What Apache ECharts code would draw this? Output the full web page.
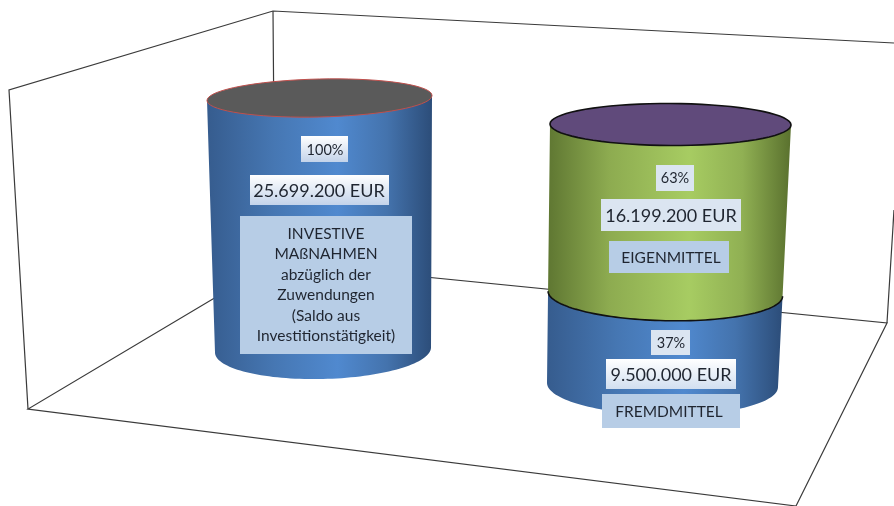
<!DOCTYPE html>
<html>
<head>
<meta charset="utf-8">
<style>html,body{margin:0;padding:0;background:#fff}#chart{width:894px;height:506px}</style>
<script src="https://cdn.jsdelivr.net/npm/echarts@6/dist/echarts.min.js"></script>
</head>
<body>
<div id="chart"></div>
<script>
// Werte in EUR
var leftCategories = ['Investive Maßnahmen'];
var rightCategories = ['Finanzierung'];
var investiv = [25699200];
var fremdmittel = [9500000];
var eigenmittel = [16199200];
var axisMax = 25699200;

var percentTexts = ['100%', '63%', '37%'];
var amountTexts = ['25.699.200 EUR', '16.199.200 EUR', '9.500.000 EUR'];
var nameTexts = [
  'INVESTIVE\nMAßNAHMEN\nabzüglich der\nZuwendungen\n(Saldo aus\nInvestitionstätigkeit)',
  'EIGENMITTEL',
  'FREMDMITTEL'
];

var BLUE = [[0, '#365c8e'], [0.3, '#4677b3'], [0.58, '#5089cf'], [0.8, '#4473ad'], [1, '#2c4d79']];
var GREEN = [[0, '#5f7732'], [0.25, '#8dab50'], [0.58, '#a7cc62'], [0.8, '#90b053'], [1, '#5a712e']];

function gradient(stops) {
  return {
    type: 'linear', x: 0, y: 0, x2: 1, y2: 0,
    colorStops: stops.map(function (s) { return { offset: s[0], color: s[1] }; })
  };
}

// ein Zylinderabschnitt; insets = Verjuengung durch die Perspektive
function cylinderRender(o) {
  return function (params, api) {
    var sys = params.coordSys;
    var yBot = api.coord([api.value(0), api.value(1)])[1] + (o.shiftBottom || 0);
    var yTop = api.coord([api.value(0), api.value(2)])[1] + (o.shiftTop || 0);
    var h = sys.height;

    function edges(y) {
      var f = (sys.y + h - y) / h; // 0 unten, 1 oben
      var l = sys.x + o.insetLT * f + o.insetLB * (1 - f);
      var r = sys.x + sys.width - o.insetRT * f - o.insetRB * (1 - f);
      return [l, r];
    }
    function arc(y, ry, tilt, from, to) {
      var e = edges(y), cx = (e[0] + e[1]) / 2, rx = (e[1] - e[0]) / 2, pts = [];
      for (var i = 0; i <= 72; i++) {
        var t = from + (to - from) * i / 72;
        pts.push([cx + rx * Math.cos(t), y + ry * Math.sin(t) + tilt / 2 * Math.cos(t)]);
      }
      return pts;
    }

    var children = [];
    var topSide = arc(yTop, 0, o.tiltTop, Math.PI, 0);
    var botArc = arc(yBot, o.ryBottom, o.tiltBottom, 0, Math.PI);
    children.push({
      type: 'polygon',
      shape: { points: topSide.concat(botArc) },
      style: { fill: gradient(o.colors) }
    });
    if (o.bottomLine) {
      children.push({
        type: 'polyline',
        shape: { points: arc(yBot, o.ryBottom, o.tiltBottom, 0, Math.PI) },
        style: { fill: 'none', stroke: o.bottomLine, lineWidth: 1.6 }
      });
    }
    if (o.capFill) {
      children.push({
        type: 'polygon',
        shape: { points: arc(yTop, o.ryTop, o.tiltTop, 0, Math.PI * 2) },
        style: { fill: o.capFill, stroke: o.capStroke, lineWidth: o.capWidth }
      });
    }
    return { type: 'group', children: children };
  };
}

function box(x0, y0, x1, y1, fill) {
  return { type: 'rect', silent: true, z: 50, shape: { x: x0, y: y0, width: x1 - x0, height: y1 - y0 }, style: { fill: fill } };
}
function label(cx, cy, text, size, lh) {
  return {
    type: 'text', silent: true, z: 51, x: cx, y: cy,
    style: { text: text, fill: '#1f2530', font: size + 'px Lato, "Open Sans", sans-serif', align: 'center', verticalAlign: 'middle', lineHeight: lh }
  };
}
function glow(c) {
  return { type: 'linear', x: 0, y: 0, x2: 0, y2: 1, colorStops: [{ offset: 0, color: '#ffffff' }, { offset: 1, color: c }] };
}
function frameLine(points) {
  return { type: 'polyline', silent: true, z: 0, shape: { points: points }, style: { fill: 'none', stroke: '#3a3a3a', lineWidth: 1.2 } };
}

var frame = [
  frameLine([[28, 409], [9, 90], [273, 11], [894, 43]]),
  frameLine([[273, 11], [275, 262], [887, 323], [796, 506]]),
  frameLine([[275, 262], [28, 409], [796, 506]]),
  frameLine([[887, 323], [894, 210]])
];

var labels = [
  box(301, 136, 348, 162, glow('#c3d3ea')), label(325, 150, percentTexts[0], 14.5, 18),
  box(250, 175, 389, 205, glow('#c3d3ea')), label(319, 191, amountTexts[0], 18, 24),
  box(240, 216, 412, 354, '#b7cde6'), label(326, 285, nameTexts[0], 15.5, 20.4),
  box(656, 165, 694, 191, '#dbe5f1'), label(675, 178, percentTexts[1], 14.5, 18),
  box(601, 199, 741, 231, '#dbe5f1'), label(671, 216, amountTexts[1], 18, 24),
  box(609, 241, 729, 273, '#b7cde6'), label(671, 258, nameTexts[1], 15.5, 18),
  box(651, 330, 690, 355, '#dbe5f1'), label(671, 343, percentTexts[2], 14.5, 18),
  box(606, 359, 736, 389, glow('#d2dff0')), label(671, 375, amountTexts[2], 18, 24),
  box(602, 394, 740, 428, '#b7cde6'), label(669, 412, nameTexts[2], 15.5, 18)
];

var chart = echarts.init(document.getElementById('chart'), null, { renderer: 'canvas' });
chart.setOption({
  animation: false,
  backgroundColor: '#ffffff',
  grid: [
    { left: 207, top: 98, width: 225, height: 252 },
    { left: 547, top: 124.5, width: 244, height: 260.5 }
  ],
  xAxis: [
    { type: 'category', gridIndex: 0, data: leftCategories, show: false },
    { type: 'category', gridIndex: 1, data: rightCategories, show: false }
  ],
  yAxis: [
    { type: 'value', gridIndex: 0, min: 0, max: axisMax, show: false },
    { type: 'value', gridIndex: 1, min: 0, max: axisMax, show: false }
  ],
  graphic: { elements: frame.concat(labels) },
  series: [
    {
      type: 'custom', name: 'Investive Maßnahmen', xAxisIndex: 0, yAxisIndex: 0, z: 2,
      encode: { x: 0, y: [1, 2] },
      data: [[0, 0, investiv[0]]],
      renderItem: cylinderRender({
        colors: BLUE, insetLT: 0, insetLB: 8, insetRT: 0, insetRB: 1,
        ryTop: 19, ryBottom: 29, tiltTop: -5, tiltBottom: -5,
        capFill: '#5a5a5a', capStroke: '#c0504d', capWidth: 1
      })
    },
    {
      type: 'custom', name: 'Fremdmittel', xAxisIndex: 1, yAxisIndex: 1, z: 2,
      encode: { x: 0, y: [1, 2] },
      data: [[0, 0, fremdmittel[0]]],
      renderItem: cylinderRender({
        colors: BLUE, insetLT: 3, insetLB: 0, insetRT: 0, insetRB: 13,
        ryTop: 27, ryBottom: 30, tiltTop: 5, tiltBottom: 4, shiftTop: 5
      })
    },
    {
      type: 'custom', name: 'Eigenmittel', xAxisIndex: 1, yAxisIndex: 1, z: 3,
      encode: { x: 0, y: [1, 2] },
      data: [[0, fremdmittel[0], fremdmittel[0] + eigenmittel[0]]],
      renderItem: cylinderRender({
        colors: GREEN, insetLT: 3, insetLB: 0, insetRT: 0, insetRB: 13,
        ryTop: 21, ryBottom: 27, tiltTop: 1, tiltBottom: 5, shiftBottom: 5,
        bottomLine: '#111111',
        capFill: '#604a7b', capStroke: '#111111', capWidth: 1.6
      })
    }
  ]
});
</script>
</body>
</html>
